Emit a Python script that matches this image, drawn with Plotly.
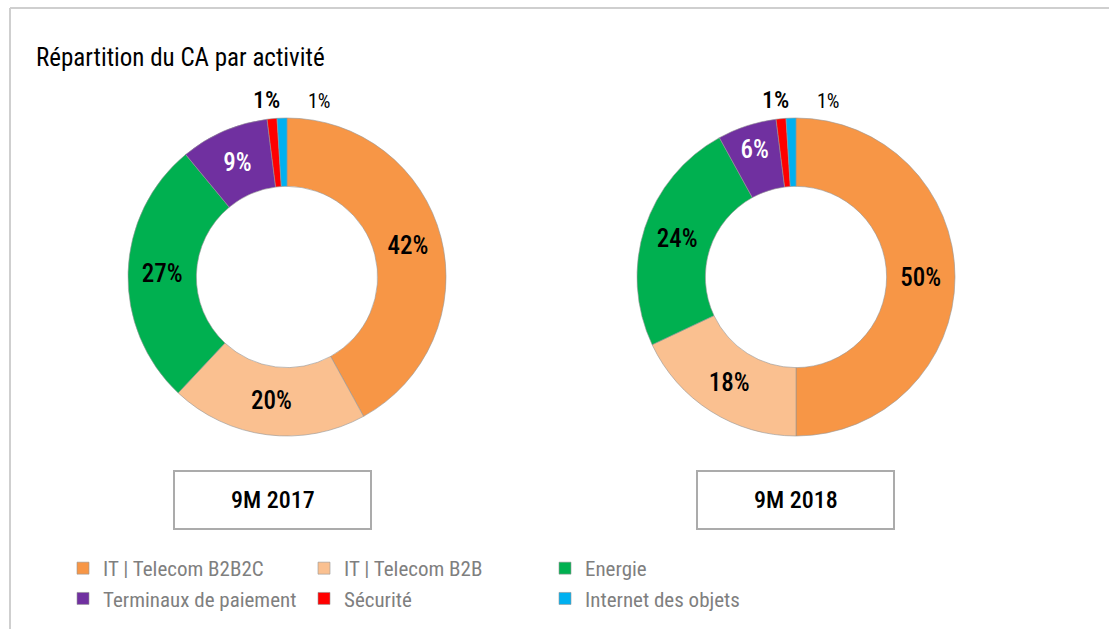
import math
import plotly.graph_objects as go

# ---------------- data ----------------
categories = ["IT | Telecom B2B2C", "IT | Telecom B2B", "Energie",
              "Terminaux de paiement", "Sécurité", "Internet des objets"]
values_2017 = [42, 20, 27, 9, 1, 1]
values_2018 = [50, 18, 24, 6, 1, 1]
periods = ["9M 2017", "9M 2018"]
title_text = "Répartition du CA par activité"

# ---------------- styles ----------------
colors = ["#F79646", "#FAC090", "#00B050", "#7030A0", "#FF0000", "#00B0F0"]
inside_colors = ["black", "black", "black", "white", "black", "black"]
FONT = "Roboto Condensed, Liberation Sans Narrow, sans-serif"

W, H = 1109, 629
ML, MR = 40, 150
PW = W - ML - MR


def pxx(x):
    return (x - ML) / PW


def pyy(y):
    return 1 - y / H


centers = [(287, 277), (796, 277)]
R = 159
HOLE = 0.57
boxes = [(174, 471, 371, 529), (697, 471, 894, 529)]
small_dx = {4: -6, 5: 37}
small_size = {4: 24, 5: 20}
small_weight = {4: 500, 5: 400}

fig = go.Figure()
annotations = []
shapes = []

for i, (vals, period) in enumerate(zip([values_2017, values_2018], periods)):
    cx, cy = centers[i]
    texts = [f"{v}%" if v > 1 else "" for v in vals]
    fig.add_trace(go.Pie(
        labels=categories, values=vals, sort=False, direction="clockwise",
        rotation=0, hole=HOLE, text=texts, textinfo="text",
        textposition="inside", insidetextorientation="horizontal",
        textfont=dict(family=FONT, size=25, color=inside_colors, weight=500),
        marker=dict(colors=colors, line=dict(color="rgba(150,150,150,0.6)", width=1)),
        domain=dict(x=[pxx(cx - R), pxx(cx + R)], y=[pyy(cy + R), pyy(cy - R)]),
        showlegend=(i == 0), hoverinfo="label+percent",
    ))
    # outside labels for the tiny slices, placed from the slice angle
    total = sum(vals)
    cum = 0
    for j, v in enumerate(vals):
        mid = (cum + v / 2) / total * 2 * math.pi
        cum += v
        if v > 1:
            continue
        ex = cx + R * math.sin(mid)
        ey = cy - R * math.cos(mid)
        annotations.append(dict(
            x=pxx(ex), y=pyy(ey), xref="paper", yref="paper",
            text=f"{v}%", showarrow=False, xanchor="center", yanchor="bottom",
            xshift=small_dx[j], yshift=3,
            font=dict(family=FONT, size=small_size[j], color="black",
                      weight=small_weight[j])))
    # period box
    x0, y0, x1, y1 = boxes[i]
    shapes.append(dict(type="rect", xref="paper", yref="paper",
                       x0=pxx(x0), x1=pxx(x1), y0=pyy(y1), y1=pyy(y0),
                       line=dict(color="#ABABAB", width=2), fillcolor="white"))
    annotations.append(dict(
        x=pxx((x0 + x1) / 2), y=pyy((y0 + y1) / 2), xref="paper", yref="paper",
        text=period, showarrow=False, xanchor="center", yanchor="middle",
        font=dict(family=FONT, size=24, color="black", weight=500)))

# title
annotations.append(dict(
    x=pxx(34), y=pyy(58), xref="paper", yref="paper", text=title_text,
    showarrow=False, xanchor="left", yanchor="middle",
    font=dict(family=FONT, size=25, color="black", weight=400)))

# outer frame (top and left edges)
shapes.append(dict(type="line", xref="paper", yref="paper",
                   x0=pxx(10), x1=pxx(W), y0=pyy(8), y1=pyy(8),
                   line=dict(color="#CFCFCF", width=2)))
shapes.append(dict(type="line", xref="paper", yref="paper",
                   x0=pxx(10), x1=pxx(10), y0=pyy(8), y1=pyy(H),
                   line=dict(color="#CFCFCF", width=2)))

fig.update_layout(
    width=W, height=H, autosize=False,
    margin=dict(l=ML, r=MR, t=0, b=0),
    paper_bgcolor="white", plot_bgcolor="white",
    font=dict(family=FONT),
    uniformtext=dict(minsize=25, mode="show"),
    annotations=annotations, shapes=shapes,
    legend=dict(orientation="h", x=pxx(63), y=pyy(548), xanchor="left", yanchor="top",
                entrywidth=196, entrywidthmode="pixels", traceorder="normal",
                font=dict(family=FONT, size=21, color="#7F7F7F"),
                bgcolor="rgba(0,0,0,0)"),
)

fig.write_html("out.html", config={"displayModeBar": False},
               post_script="document.body.style.margin='0';")
